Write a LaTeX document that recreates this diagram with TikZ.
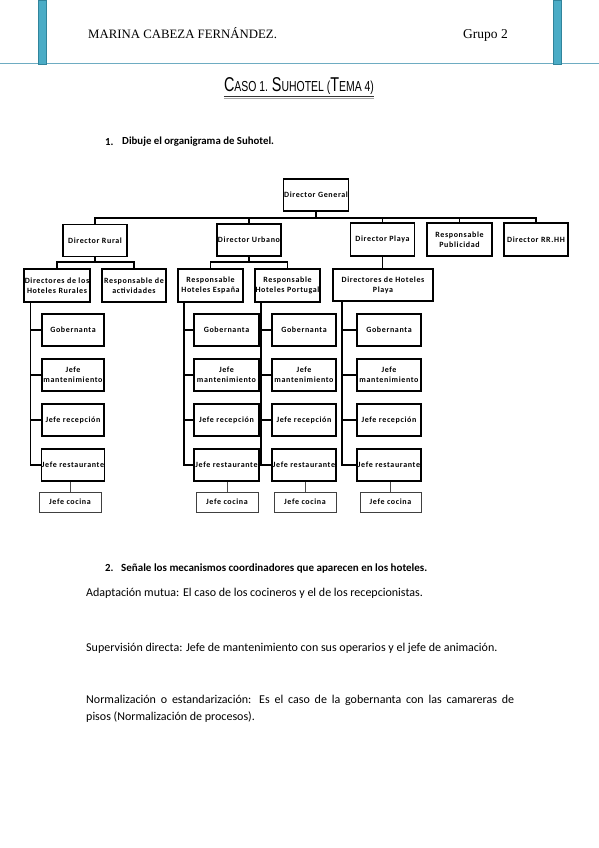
\documentclass[tikz,border=0pt]{standalone}
\usepackage{fontspec}
\setmainfont{Carlito}
\newfontfamily\headfont{Liberation Serif}
\newfontfamily\titlefont[FakeStretch=0.72]{Liberation Sans}
\newfontfamily\chartfont[LetterSpace=8]{Carlito}
\definecolor{barblue}{RGB}{75,172,198}
\definecolor{bardark}{RGB}{49,132,155}
\definecolor{rulecol}{RGB}{110,172,194}
\tikzset{
  orgbox/.style={draw=black, line width=1.6pt, fill=white, align=center, inner sep=0.5pt,
    font=\chartfont\fontsize{8}{10}\selectfont\bfseries, minimum width=64pt, minimum height=32pt},
  thinbox/.style={draw=black!75, line width=0.7pt, fill=white, inner sep=0.5pt,
    font=\chartfont\fontsize{8}{10}\selectfont\bfseries, minimum width=62pt, minimum height=20pt},
  conn/.style={black, line width=1.6pt},
  thinconn/.style={black!70, line width=0.7pt},
  bodytext/.style={anchor=west, inner sep=0pt, font=\fontsize{12}{17}\selectfont}
}
\begin{document}
\begin{tikzpicture}[x=1pt, y=-1pt]
\useasboundingbox (0,0) rectangle (599,848);
\fill[white] (0,0) rectangle (599,848);
% header
\draw[rulecol, line width=1.3pt] (0,63.5) -- (599,63.5);
\draw[bardark, fill=barblue, line width=0.6pt] (38,0) rectangle (46,64);
\draw[bardark, fill=barblue, line width=0.6pt] (553,0) rectangle (561,64);
\node[anchor=base west, inner sep=0pt, font=\headfont\fontsize{12.8}{14}\selectfont] (autor) at (88,39) {MARINA CABEZA FERNÁNDEZ.};
\node[anchor=base west, inner sep=0pt, font=\headfont\fontsize{13.5}{14}\selectfont] (grupo) at (463,39) {Grupo 2};
\node[inner sep=0pt, font=\titlefont\fontsize{14.5}{16}\selectfont] (titulo) at (299,86)
  {{\fontsize{20}{22}\selectfont C}ASO 1. {\fontsize{20}{22}\selectfont S}UHOTEL ({\fontsize{20}{22}\selectfont T}EMA 4)};
\draw[black!35, line width=1pt] ([yshift=-3.6pt]titulo.south west) -- ([yshift=-3.6pt]titulo.south east);
\draw[black!80, line width=1.1pt] ([yshift=-2.2pt]titulo.south west) -- ([yshift=-2.2pt]titulo.south east);
% pregunta 1
\node[anchor=west, inner sep=0pt, font=\fontsize{10.8}{12}\selectfont\bfseries] (n1) at (105,142) {1.};
\node[anchor=west, inner sep=0pt, font=\fontsize{10.8}{12}\selectfont\bfseries] (q1) at (122,142) {Dibuje el organigrama de Suhotel.};
% organigrama: niveles 1 y 2
\node[orgbox] (DG) at (316,195) {Director General};
\node[orgbox] (DR) at (95,240.5) {Director Rural};
\node[orgbox] (DU) at (249,240) {Director Urbano};
\node[orgbox, minimum height=33pt] (DP) at (382.5,239.5) {Director Playa};
\node[orgbox, minimum height=33pt, minimum width=65pt] (RP) at (459.5,239.5) {Responsable\\Publicidad};
\node[orgbox, minimum height=33pt] (RH) at (536,239.5) {Director RR.HH};
\coordinate (bus) at (316,218);
\draw[conn] (DG.south) -- (bus);
\draw[conn] (DR.north) -- (DR.north |- bus) -- (RH.north |- bus) -- (RH.north);
\draw[conn] (DU.north) -- (DU.north |- bus);
\draw[conn] (DP.north) -- (DP.north |- bus);
\draw[conn] (RP.north) -- (RP.north |- bus);
% nivel 3
\node[orgbox, minimum height=33pt] (DHR) at (57,285.5) {Directores de los\\Hoteles Rurales};
\node[orgbox, minimum height=33pt] (RA) at (134,285.5) {Responsable de\\actividades};
\node[orgbox, minimum height=33pt, minimum width=65pt] (RHE) at (210.5,285.5) {Responsable\\Hoteles España};
\node[orgbox, minimum height=33pt, minimum width=63pt] (RHP) at (287.5,285.5) {Responsable\\Hoteles Portugal};
\node[orgbox, minimum height=32pt, minimum width=100pt] (DHP) at (383,285) {Directores de Hoteles\\Playa};
\coordinate (subR) at (95,262);
\coordinate (subU) at (249,262);
\draw[conn] (DR.south) -- (subR);
\draw[conn] (DHR.north) -- (DHR.north |- subR) -- (RA.north |- subR) -- (RA.north);
\draw[conn] (DU.south) -- (subU);
\draw[conn] (RHE.north) -- (RHE.north |- subU) -- (RHP.north |- subU) -- (RHP.north);
\draw[conn] (DP.south) -- (DP.south |- DHP.north);
% hoteles rurales
\node[orgbox, minimum width=62pt] (gobR) at (73,330) {Gobernanta};
\node[orgbox, minimum width=62pt] (manR) at (73,375) {Jefe\\mantenimiento};
\node[orgbox, minimum width=62pt] (recR) at (73,420) {Jefe recepción};
\node[orgbox, minimum width=62pt] (resR) at (73,465) {Jefe restaurante};
\node[thinbox] (cocR) at (70,502) {Jefe cocina};
\draw[conn] (DHR.south west) ++(7,0) coordinate (spR) |- (resR.west);
\draw[conn] (spR |- gobR.west) -- (gobR.west);
\draw[conn] (spR |- manR.west) -- (manR.west);
\draw[conn] (spR |- recR.west) -- (recR.west);
\draw[thinconn] (cocR.north) -- (cocR.north |- resR.south);
% hoteles España
\node[orgbox, minimum width=64.5pt] (gobE) at (226.5,330) {Gobernanta};
\node[orgbox, minimum width=64.5pt] (manE) at (226.5,375) {Jefe\\mantenimiento};
\node[orgbox, minimum width=64.5pt] (recE) at (226.5,420) {Jefe recepción};
\node[orgbox, minimum width=64.5pt] (resE) at (226.5,465) {Jefe restaurante};
\node[thinbox] (cocE) at (227,502) {Jefe cocina};
\draw[conn] (RHE.south west) ++(7,0) coordinate (spE) |- (resE.west);
\draw[conn] (spE |- gobE.west) -- (gobE.west);
\draw[conn] (spE |- manE.west) -- (manE.west);
\draw[conn] (spE |- recE.west) -- (recE.west);
\draw[thinconn] (cocE.north) -- (cocE.north |- resE.south);
% hoteles Portugal
\node[orgbox] (gobP) at (304,330) {Gobernanta};
\node[orgbox] (manP) at (304,375) {Jefe\\mantenimiento};
\node[orgbox] (recP) at (304,420) {Jefe recepción};
\node[orgbox] (resP) at (304,465) {Jefe restaurante};
\node[thinbox] (cocP) at (305,502) {Jefe cocina};
\draw[conn] (RHP.south west) ++(7,0) coordinate (spP) |- (resP.west);
\draw[conn] (spP |- gobP.west) -- (gobP.west);
\draw[conn] (spP |- manP.west) -- (manP.west);
\draw[conn] (spP |- recP.west) -- (recP.west);
\draw[thinconn] (cocP.north) -- (cocP.north |- resP.south);
% hoteles playa
\node[orgbox] (gobY) at (389,330) {Gobernanta};
\node[orgbox] (manY) at (389,375) {Jefe\\mantenimiento};
\node[orgbox] (recY) at (389,420) {Jefe recepción};
\node[orgbox] (resY) at (389,465) {Jefe restaurante};
\node[thinbox, minimum width=61pt] (cocY) at (390.5,502) {Jefe cocina};
\draw[conn] (DHP.south west) ++(10,0) coordinate (spY) |- (resY.west);
\draw[conn] (spY |- gobY.west) -- (gobY.west);
\draw[conn] (spY |- manY.west) -- (manY.west);
\draw[conn] (spY |- recY.west) -- (recY.west);
\draw[thinconn] (cocY.north) -- (cocY.north |- resY.south);
% pregunta 2
\node[anchor=west, inner sep=0pt, font=\fontsize{10.8}{12}\selectfont\bfseries] (n2) at (105,568) {2.};
\node[anchor=west, inner sep=0pt, font=\fontsize{11}{12}\selectfont\bfseries] (q2) at (121,568) {Señale los mecanismos coordinadores que aparecen en los hoteles.};
\node[bodytext] (r1) at (86,593) {Adaptación mutua: El caso de los cocineros y el de los recepcionistas.};
\node[bodytext] (r2) at (86,648) {Supervisión directa: Jefe de mantenimiento con sus operarios y el jefe de animación.};
\node[bodytext, anchor=north west, text width=428pt, align=justify] (r3) at (86,695)
  {\hyphenpenalty=10000 Normalización o estandarización: Es el caso de la gobernanta con las camareras de\linebreak pisos (Normalización de procesos).};
\end{tikzpicture}
\end{document}
